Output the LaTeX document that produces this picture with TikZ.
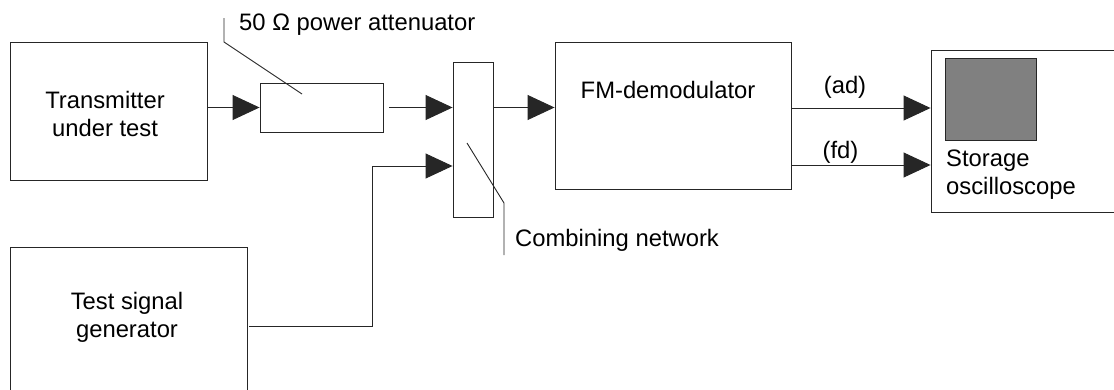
\documentclass[tikz,border=0pt]{standalone}
\usepackage{fontspec}
\setmainfont{Liberation Sans}
\usetikzlibrary{arrows.meta,calc}
\begin{document}
\begin{tikzpicture}[x=1pt,y=-1pt,
  box/.style={draw=black!85, line width=0.9pt, inner sep=0pt},
  conn/.style={draw=black!85, line width=0.9pt},
  arr/.style={conn, -{Triangle[length=27pt,width=25pt]}},
  lbl/.style={inner sep=0pt, font=\fontsize{23.8pt}{28pt}\selectfont, align=center},
  lblleft/.style={lbl, align=left, anchor=west}]
\useasboundingbox (0,0) rectangle (1114,389);
\clip (0,0) rectangle (1114,389);
% boxes
\node[box, minimum width=197pt, minimum height=138pt] (tx) at (108.5,111) {};
\node[lbl] (txlabel) at (105,114) {Transmitter\\under test};
\node[box, minimum width=123pt, minimum height=49pt] (att) at (321.5,107.5) {};
\node[box, minimum width=40pt, minimum height=155pt] (comb) at (473,139.5) {};
\node[box, minimum width=236pt, minimum height=147pt] (fm) at (673,115.5) {};
\node[lbl] (fmlabel) at (668,90) {FM-demodulator};
\node[box, minimum width=199pt, minimum height=162pt] (osc) at (1030.5,131) {};
\node[box, fill=black!50, minimum width=91pt, minimum height=82pt] (screen) at (990.5,99) {};
\node[lblleft] (osclabel) at (946,175) {Storage\\oscilloscope};
\node[box, minimum width=237pt, minimum height=166pt] (gen) at (128.5,330) {};
\node[lbl] (genlabel) at (127,317.5) {Test signal\\generator};
% connectors
\draw[arr] (tx.east |- att.west) -- (att.west);
\draw[arr] ([xshift=6pt]att.east) -- (comb.west |- att.east);
\draw[arr] (comb.east |- att.east) -- (fm.west |- att.east);
\coordinate (genout) at ($(gen.east)+(2,-3.5)$);
\coordinate (combin) at ($(comb.west)+(0,26.5)$);
\draw[arr] (genout) -- (372,0 |- genout) -- (372,0 |- combin) -- (combin);
\coordinate (adout) at ($(fm.east)+(0,-7.5)$);
\coordinate (fdout) at ($(fm.east)+(0,49.5)$);
\draw[arr] (adout) -- (osc.west |- adout);
\draw[arr] (fdout) -- (osc.west |- fdout);
\node[lbl] (adlabel) at (845,87) {(ad)};
\node[lbl] (fdlabel) at (840.5,152) {(fd)};
% leaders
\coordinate (attlead) at (302,94);
\draw[conn] (224,18) -- (224,42) -- (attlead);
\node[lblleft] (attlabel) at (239,25) {50 Ω power attenuator};
\coordinate (comblead) at (467,143);
\draw[conn] (comblead) -- (504,203) -- (504,255);
\node[lblleft] (comblabel) at (515,240) {Combining network};
\end{tikzpicture}
\end{document}
